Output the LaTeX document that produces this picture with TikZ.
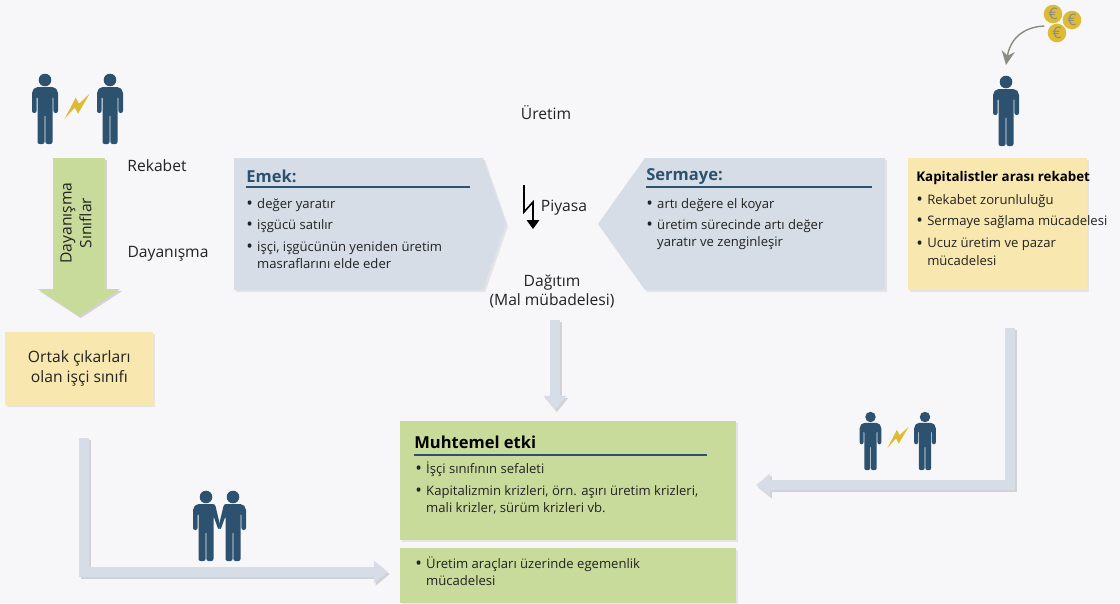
\documentclass[tikz,border=0pt]{standalone}
\usepackage{fontspec}
\setmainfont{Open Sans}
\usepackage{tikz}
\usetikzlibrary{arrows.meta,shadows,positioning}
\definecolor{zemin}{HTML}{F7F7FA}
\definecolor{panel}{HTML}{D6DDE6}
\definecolor{sari}{HTML}{F8E7AE}
\definecolor{yesil}{HTML}{C9DB9B}
\definecolor{lacivert}{HTML}{2C526F}
\definecolor{altin}{HTML}{DDBB35}
\definecolor{gri}{HTML}{8C8C84}
\definecolor{golge}{HTML}{D2D2D4}
\definecolor{yazi}{HTML}{222222}
\newcommand{\blt}{\makebox[6.2pt][l]{\raisebox{-0.6pt}[0pt][0pt]{\fontsize{10}{9.7}\selectfont •}}}
\newcommand{\ind}{\hspace*{6.2pt}}
\tikzset{
	person/.pic={
		\fill[lacivert] (0,0) circle (6.3);
		\fill[lacivert,rounded corners=1.2pt] (-13,33)--(-13,11)--(-9.5,7)--(9.5,7)--(13,11)--(13,33)--(8.4,33)--(8.4,16)--(7.5,16)--(7.5,64)--(0.4,64)--(0.4,34)--(-0.4,34)--(-0.4,64)--(-7.5,64)--(-7.5,16)--(-8.4,16)--(-8.4,33)--cycle;
	},
	handperson/.pic={
		\fill[lacivert] (0,0) circle (6.3);
		\fill[lacivert,rounded corners=1.2pt] (-13,33)--(-13,11)--(-9.5,7)--(9,7)--(14.5,30)--(12.5,33)--(7.5,19)--(7.5,64)--(0.4,64)--(0.4,34)--(-0.4,34)--(-0.4,64)--(-7.5,64)--(-7.5,16)--(-8.4,16)--(-8.4,33)--cycle;
	},
	bolt/.pic={
		\fill[altin] (-12.3,12.7)--(-1.3,-8.3)--(2,-2.3)--(12.7,-12.3)--(1,7.7)--(-2.3,1.7)--cycle;
	}
}
\begin{document}
\begin{tikzpicture}
	[x=0.02cm,y=-0.02cm,
	yazi1/.style={inner sep=0pt,text=yazi,font=\fontsize{8.9}{11.3}\selectfont,align=center},
	madde/.style={inner sep=0pt,anchor=north west,align=left,text=yazi,font=\fontsize{7.45}{9.7}\selectfont},
	baslik/.style={inner sep=0pt,anchor=west,text=lacivert,font=\fontsize{9.4}{11}\selectfont\bfseries},
	kutu/.style={anchor=north west,inner sep=0pt,drop shadow={shadow xshift=1.2pt,shadow yshift=-1.2pt,fill=golge}},
	ok/.style={line width=5.4pt,color=panel,-{Triangle[length=8pt,width=12.5pt]},
		preaction={draw=golge,line width=5.4pt,-{Triangle[length=8pt,width=12.5pt]},transform canvas={shift={(1pt,-1.2pt)}}}},
	cizgi/.style={draw=lacivert,line width=0.7pt}]
	\path[use as bounding box,fill=zemin] (0,0) rectangle (1120,603);
	%paneller
	\fill[panel,drop shadow={shadow xshift=1.2pt,shadow yshift=-1.2pt,fill=golge}] (234,158)--(483,158)--(506,224)--(483,290)--(234,290)--cycle;
	\fill[panel,drop shadow={shadow xshift=1.2pt,shadow yshift=-1.2pt,fill=golge}] (885,158)--(645,158)--(598,224)--(645,290)--(885,290)--cycle;
	\node[kutu,fill=sari,minimum width=179*0.02cm,minimum height=132*0.02cm] (kapitalist) at (908,158) {};
	\node[kutu,fill=sari,minimum width=148*0.02cm,minimum height=73*0.02cm,align=center,font=\fontsize{8.9}{11.3}\selectfont,text=yazi] (ortak) at (5,332) {Ortak çıkarları\\olan işçi sınıfı};
	\node[kutu,fill=yesil,minimum width=336*0.02cm,minimum height=119*0.02cm] (etki) at (400,421) {};
	\node[kutu,fill=yesil,minimum width=336*0.02cm,minimum height=55*0.02cm] (mucadele) at (400,548) {};
	%oklar
	\coordinate (a1) at (79,158);
	\coordinate (a2) at (79,316);
	\draw[line width=30pt,color=yesil,-{Triangle[length=15.3pt,width=46pt]},
		preaction={draw=golge,line width=30pt,-{Triangle[length=15.3pt,width=46pt]},transform canvas={shift={(1pt,-1.2pt)}}}] (a1)--(a2);
	\coordinate (b1) at (555,320);
	\coordinate (b2) at (555,410);
	\draw[ok] (b1)--(b2);
	\coordinate (c1) at (1010,328);
	\coordinate (c2) at (1010,485);
	\coordinate (c3) at (756,485);
	\draw[ok] (c1)--(c2)--(c3);
	\coordinate (d1) at (84,438);
	\coordinate (d2) at (84,572);
	\coordinate (d3) at (388,572);
	\draw[ok] (d1)--(d2)--(d3);
	%basliklar
	\node[yazi1] (uretim) at (546,113) {Üretim};
	\node[yazi1] (rekabet) at (157,166) {Rekabet};
	\node[yazi1] (dayanisma) at (168,254) {Dayanışma};
	\node[yazi1] (piyasa) at (564,208) {Piyasa};
	\node[yazi1] (dagitim) at (552,291.5) {Dağıtım\\(Mal mübadelesi)};
	\node[yazi1,rotate=90] (siniflar) at (76,223) {Dayanışma\\Sınıflar};
	%Emek
	\node[baslik] (emek) at (246,176) {Emek:};
	\draw[cizgi] (246,187)--(470,187);
	\node[madde] (e1) at (246,198) {\blt değer yaratır};
	\node[madde] (e2) at (246,219) {\blt işgücü satılır};
	\node[madde] (e3) at (246,241) {\blt işçi, işgücünün yeniden üretim\\\ind masraflarını elde eder};
	%Sermaye
	\node[baslik] (sermaye) at (646,176) {Sermaye:};
	\draw[cizgi] (646,187)--(872,187);
	\node[madde] (s1) at (646,198) {\blt artı değere el koyar};
	\node[madde] (s2) at (646,219) {\blt üretim sürecinde artı değer\\\ind yaratır ve zenginleşir};
	%Kapitalistler
	\node[madde,anchor=west,font=\fontsize{7.6}{9.7}\selectfont\bfseries,text=black] (kbas) at (916,178) {Kapitalistler arası rekabet};
	\node[madde] (k1) at (916,194) {\blt Rekabet zorunluluğu};
	\node[madde] (k2) at (916,215) {\blt Sermaye sağlama mücadelesi};
	\node[madde] (k3) at (916,238) {\blt Ucuz üretim ve pazar\\\ind mücadelesi};
	%etki
	\node[baslik,text=black] (ebas) at (414,442) {Muhtemel etki};
	\draw[cizgi] (414,455)--(707,455);
	\node[madde] (m1) at (415,461) {\blt İşçi sınıfının sefaleti};
	\node[madde] (m2) at (415,485) {\blt Kapitalizmin krizleri, örn. aşırı üretim krizleri,\\\ind mali krizler, sürüm krizleri vb.};
	\node[madde] (m3) at (415,556) {\blt Üretim araçları üzerinde egemenlik\\\ind mücadelesi};
	%insanlar
	\pic at (45,80) {person};
	\pic at (110,80) {person};
	\pic at (77,106) {bolt};
	\pic at (1006,82) {person};
	\pic[scale=0.83] at (870.5,417) {person};
	\pic[scale=0.83] at (925,417) {person};
	\pic[scale=0.85] at (898,437) {bolt};
	\pic at (206,497) {handperson};
	\pic[xscale=-1] at (233,497) {handperson};
	%piyasa oku
	\coordinate (p1) at (524,185);
	\coordinate (p2) at (524,212);
	\coordinate (p3) at (533,202);
	\coordinate (p4) at (533,229);
	\draw[black,line width=0.9pt,-{Triangle[length=5pt,width=7pt]}] (p1)--(p2)--(p3)--(p4);
	%paralar
	\foreach \x/\y/\n in {1053/14/para1,1072/20/para2,1057/33/para3}
		\node[circle,fill=altin,inner sep=0pt,minimum size=18.6*0.02cm,text=gri,font=\fontsize{9}{9}\selectfont] (\n) at (\x,\y) {€};
	\coordinate (o1) at (1006,65);
	\draw[gri,line width=0.8pt,-{Stealth[length=8pt,width=7.5pt]}] (para3.west) ++(-3,-7) .. controls (1022,27) and (1010,40) .. (o1);
\end{tikzpicture}
\end{document}
